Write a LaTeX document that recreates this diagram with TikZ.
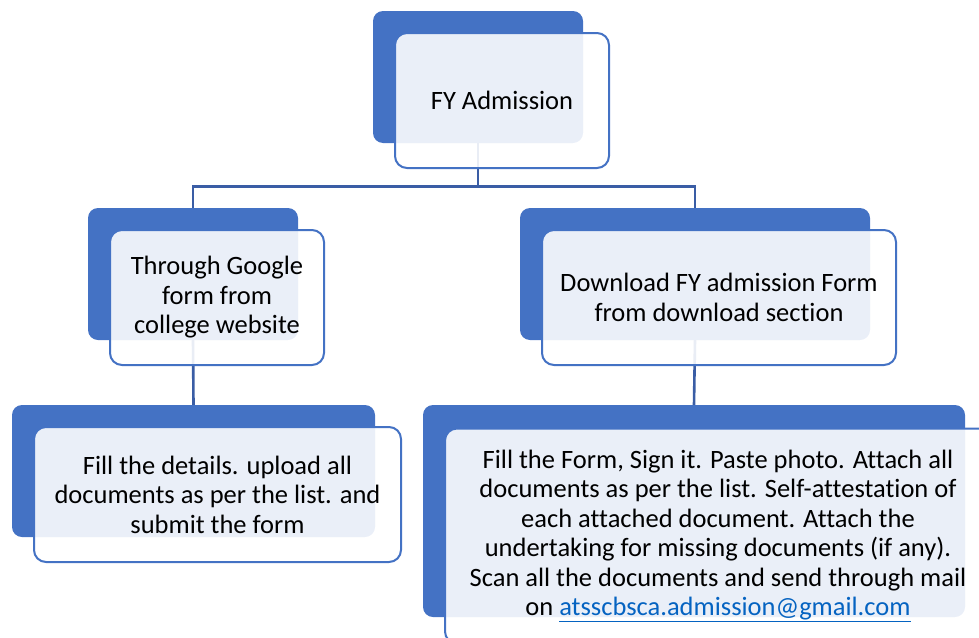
\documentclass[tikz,border=0pt]{standalone}
\usepackage{fontspec}
\setmainfont{Carlito}[Ligatures=NoCommon]
\usepackage{xcolor}
\usetikzlibrary{positioning,calc}
\definecolor{smBlue}{HTML}{4472C4}
\definecolor{smLine}{HTML}{3A5DA5}
\definecolor{smLink}{HTML}{0563C1}
\tikzset{
  backbox/.style={fill=smBlue, rounded corners=10pt, inner sep=0pt},
  frontbox/.style={draw=smBlue, line width=2pt, fill=white, fill opacity=0.89,
                   text opacity=1, rounded corners=12pt, align=center,
                   inner sep=0pt, font=\fontsize{26.5}{29.5}\selectfont},
  linkline/.style={draw=smLine, line width=2.6pt},
}

\begin{document}
\begin{tikzpicture}[x=1pt, y=1pt]
\useasboundingbox (0,0) rectangle (979,-637);
\clip (0,0) rectangle (979,-637);
%% Back boxes
\node[backbox, minimum width=210pt, minimum height=132pt] (fy) at (478,-77) {};
\node[backbox, minimum width=210pt, minimum height=132pt] (google) at (193,-274) {};
\node[backbox, minimum width=350pt, minimum height=132pt] (download) at (695,-274) {};
\node[backbox, minimum width=363pt, minimum height=132pt] (fillweb) at (193.5,-471) {};
\node[backbox, minimum width=542pt, minimum height=212pt] (fillform) at (694,-511) {};
%% Connectors
\draw[linkline] (fy.south) -- ++(0,-43) -| (google.north);
\draw[linkline] (fy.south) -- ++(0,-43) -| (download.north);
\draw[linkline] (google.south) -- (fillweb.north);
\draw[linkline] (download.south) -- (fillform.north);
%% Front boxes
\node[frontbox, minimum width=214pt, minimum height=135pt] (fyf) at ($(fy)+(24,-23.5)$) {FY Admission};
\node[frontbox, minimum width=214pt, minimum height=135pt] (googlef) at ($(google)+(24,-23.5)$)
  {Through Google\\form from\\college website};
\node[frontbox, minimum width=354pt, minimum height=135pt] (downloadf) at ($(download)+(24,-23.5)$)
  {Download FY admission Form\\from download section};
\node[frontbox, minimum width=367pt, minimum height=135pt] (fillwebf) at ($(fillweb)+(24,-23.5)$)
  {Fill the details. upload all\\documents as per the list. and\\submit the form};
\node[frontbox, minimum width=546pt, minimum height=215pt] (fillformf) at ($(fillform)+(24,-25)$)
  {Fill the Form, Sign it. Paste photo. Attach all\\documents as per the list. Self-attestation of\\each attached document. Attach the\\undertaking for missing documents (if any).\\Scan all the documents and send through mail\\on \textcolor{smLink}{\underline{atsscbsca.admission@gmail.com}}};
\end{tikzpicture}
\end{document}
